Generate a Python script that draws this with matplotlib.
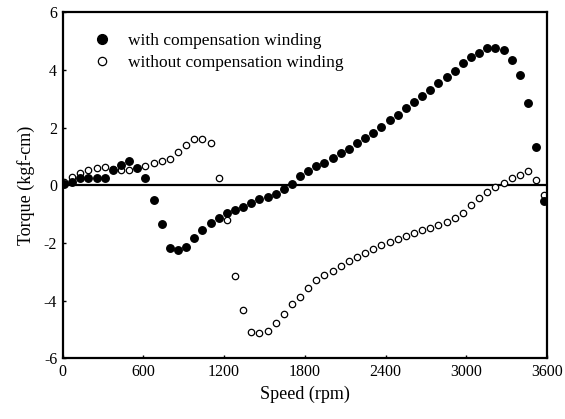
import numpy as np
import matplotlib
matplotlib.use("Agg")
import matplotlib.pyplot as plt

plt.rcParams['font.family'] = ['Liberation Serif', 'DejaVu Serif']
plt.rcParams['axes.unicode_minus'] = False

# Speed grid (rpm) of the measurements
speed = np.linspace(10, 3580, 60)

# Torque with compensation winding (kgf-cm)
torque_with = [
    0.05, 0.10, 0.25, 0.25, 0.25, 0.25, 0.52, 0.71, 0.83, 0.61,
    0.25, -0.52, -1.34, -2.17, -2.23, -2.14, -1.83, -1.57, -1.32, -1.12,
    -0.97, -0.87, -0.75, -0.60, -0.49, -0.40, -0.30, -0.13, 0.05, 0.31,
    0.50, 0.65, 0.78, 0.95, 1.10, 1.27, 1.45, 1.62, 1.82, 2.01,
    2.25, 2.42, 2.67, 2.90, 3.10, 3.31, 3.55, 3.74, 3.96, 4.24,
    4.43, 4.59, 4.76, 4.77, 4.69, 4.34, 3.82, 2.85, 1.32, -0.56,
]

# Torque without compensation winding (kgf-cm)
torque_without = [
    0.10, 0.28, 0.43, 0.54, 0.61, 0.64, 0.57, 0.52, 0.52, 0.60,
    0.67, 0.77, 0.85, 0.92, 1.16, 1.41, 1.60, 1.60, 1.48, 0.26,
    -1.20, -3.16, -4.31, -5.08, -5.13, -5.04, -4.77, -4.45, -4.11, -3.86,
    -3.57, -3.28, -3.13, -2.97, -2.80, -2.64, -2.49, -2.35, -2.22, -2.09,
    -1.97, -1.87, -1.77, -1.66, -1.57, -1.47, -1.38, -1.29, -1.15, -0.96,
    -0.67, -0.44, -0.24, -0.06, 0.08, 0.26, 0.36, 0.48, 0.19, -0.35,
]

xticks = [0, 600, 1200, 1800, 2400, 3000, 3600]
yticks = [-6, -4, -2, 0, 2, 4, 6]

fig = plt.figure(figsize=(5.65, 4.19), dpi=100)
ax = fig.add_axes([0.111, 0.145, 0.857, 0.826])

ax.axhline(0, color='black', lw=1.6, zorder=1)

ax.plot(speed, torque_with, 'o', color='black', ms=5.4, mec='black',
        label='with compensation winding', zorder=3, clip_on=True)
ax.plot(speed, torque_without, 'o', color='black', mfc='white', ms=4.6,
        mew=0.9, label='without compensation winding', zorder=2, clip_on=True)

ax.set_xlim(0, 3600)
ax.set_ylim(-6, 6)
ax.set_xticks(xticks)
ax.set_yticks(yticks)
ax.tick_params(direction='in', length=2, width=1, labelsize=11.5, pad=4)
for s in ax.spines.values():
    s.set_linewidth(1.6)

ax.set_xlabel('Speed (rpm)', fontsize=13, labelpad=4)
ax.set_ylabel('Torque (kgf-cm)', fontsize=13, labelpad=6)

ax.legend(loc='upper left', bbox_to_anchor=(0.03, 0.985), frameon=False,
          fontsize=12.5, markerscale=1.3, handletextpad=1.0, labelspacing=0.35,
          handlelength=1.0)

fig.savefig('out.png', dpi=100)
